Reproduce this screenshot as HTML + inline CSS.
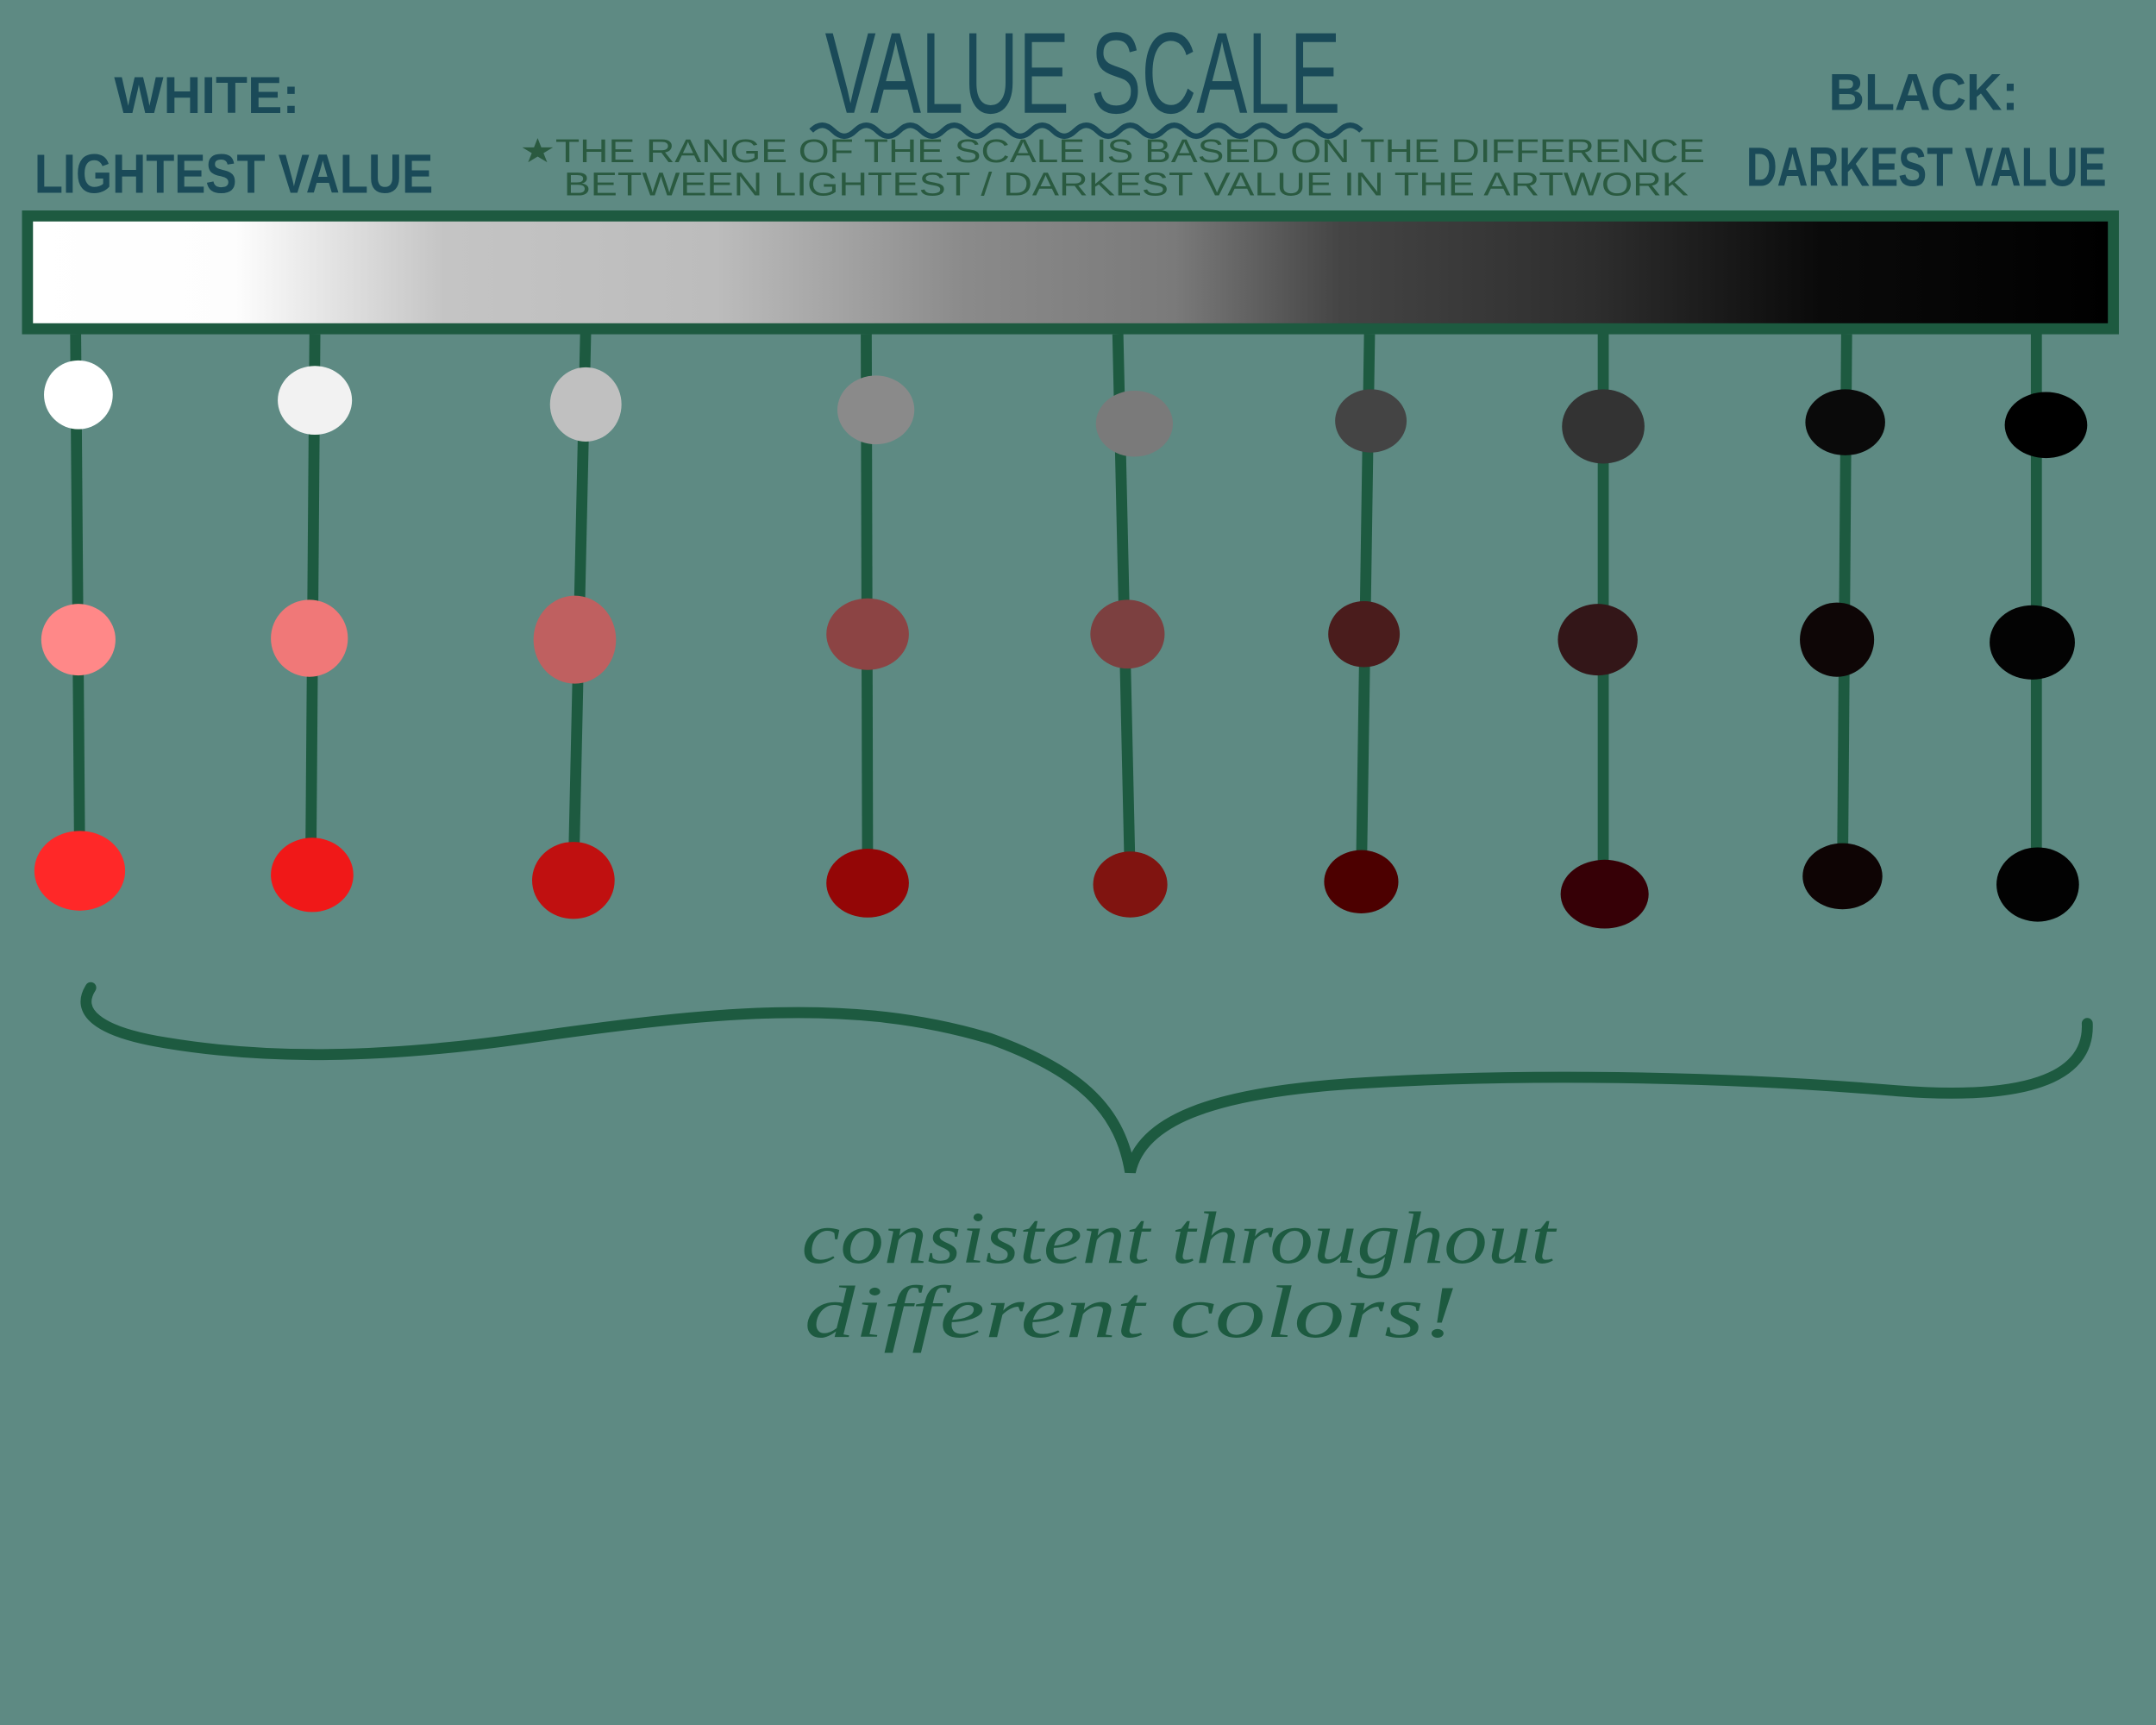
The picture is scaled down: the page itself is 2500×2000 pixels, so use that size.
<!DOCTYPE html>
<html><head><meta charset="utf-8"><style>html,body{margin:0;padding:0;background:#5e8a83}svg{display:block}</style></head>
<body>
<svg width="2500" height="2000" viewBox="0 0 1568 1254" preserveAspectRatio="none" xmlns="http://www.w3.org/2000/svg">
<defs>
<linearGradient id="g" x1="0" x2="1" y1="0" y2="0">
<stop offset="0" stop-color="#fff"/><stop offset="0.1" stop-color="#fdfdfd"/>
<stop offset="0.2" stop-color="#c4c4c4"/><stop offset="0.33" stop-color="#bcbcbc"/>
<stop offset="0.45" stop-color="#8a8a8a"/><stop offset="0.55" stop-color="#7a7a7a"/>
<stop offset="0.63" stop-color="#444"/><stop offset="0.75" stop-color="#2e2e2e"/>
<stop offset="0.86" stop-color="#0a0a0a"/><stop offset="1" stop-color="#000"/>
</linearGradient>
</defs>
<rect width="1568" height="1254" fill="#5e8a83"/>
<g font-family="Liberation Sans Narrow, Liberation Sans, sans-serif" fill="#1a4a58" font-weight="bold">
<text x="600" y="82" font-size="84" font-weight="normal" transform="scale(1,1)" textLength="375" lengthAdjust="spacingAndGlyphs">VALUE SCALE</text>
<text x="83" y="82" font-size="38" textLength="135" lengthAdjust="spacingAndGlyphs">WHITE:</text>
<text x="25" y="140" font-size="40" textLength="290" lengthAdjust="spacingAndGlyphs">LIGHTEST VALUE</text>
<text x="1330" y="80" font-size="38" textLength="138" lengthAdjust="spacingAndGlyphs">BLACK:</text>
<text x="1270" y="135" font-size="40" textLength="262" lengthAdjust="spacingAndGlyphs">DARKEST VALUE</text>
</g>
<path d="M590 95 q8 -8 16 0 t16 0 t16 0 t16 0 t16 0 t16 0 t16 0 t16 0 t16 0 t16 0 t16 0 t16 0 t16 0 t16 0 t16 0 t16 0 t16 0 t16 0 t16 0 t16 0 t16 0 t16 0 t16 0 t16 0 t16 0" fill="none" stroke="#1a4a58" stroke-width="4"/>
<g font-family="Liberation Sans Narrow, Liberation Sans, sans-serif" fill="#2a5a40" font-size="24">
<text x="378" y="118" textLength="862" lengthAdjust="spacingAndGlyphs">★THE RANGE OF THE SCALE IS BASED ON THE DIFFERENCE</text>
<text x="410" y="142" textLength="818" lengthAdjust="spacingAndGlyphs">BETWEEN LIGHTEST / DARKEST VALUE IN THE ARTWORK</text>
</g>
<rect x="20" y="157" width="1517" height="82" fill="url(#g)" stroke="#1d5a40" stroke-width="8"/>
<g stroke="#1d5a40" stroke-width="8" fill="none">
<path d="M55 243 L58 630"/><path d="M229 243 L226 636"/><path d="M426 238 L417 640"/>
<path d="M630 243 L631 642"/><path d="M813 243 L822 643"/><path d="M996 243 L990 641"/>
<path d="M1166 243 L1166 650"/><path d="M1343 243 L1340 637"/><path d="M1481 243 L1481 643"/>
</g>
<g>
<ellipse cx="57" cy="287" rx="25" ry="25" fill="#fff"/>
<ellipse cx="229" cy="291" rx="27" ry="25" fill="#f2f2f2"/>
<ellipse cx="426" cy="294" rx="26" ry="27" fill="#c0c0c0"/>
<ellipse cx="637" cy="298" rx="28" ry="25" fill="#8a8a8a"/>
<ellipse cx="825" cy="308" rx="28" ry="24" fill="#7a7a7a"/>
<ellipse cx="997" cy="306" rx="26" ry="23" fill="#444"/>
<ellipse cx="1166" cy="310" rx="30" ry="27" fill="#333"/>
<ellipse cx="1342" cy="307" rx="29" ry="24" fill="#0a0a0a"/>
<ellipse cx="1488" cy="309" rx="30" ry="24" fill="#000"/>

<ellipse cx="57" cy="465" rx="27" ry="26" fill="#ff8888"/>
<ellipse cx="225" cy="464" rx="28" ry="28" fill="#f07878"/>
<ellipse cx="418" cy="465" rx="30" ry="32" fill="#bf6060"/>
<ellipse cx="631" cy="461" rx="30" ry="26" fill="#8c4444"/>
<ellipse cx="820" cy="461" rx="27" ry="25" fill="#7c4040"/>
<ellipse cx="992" cy="461" rx="26" ry="24" fill="#4a1c1c"/>
<ellipse cx="1162" cy="465" rx="29" ry="26" fill="#331618"/>
<ellipse cx="1336" cy="465" rx="27" ry="27" fill="#0e0606"/>
<ellipse cx="1478" cy="467" rx="31" ry="27" fill="#030303"/>

<ellipse cx="58" cy="633" rx="33" ry="29" fill="#ff2828"/>
<ellipse cx="227" cy="636" rx="30" ry="27" fill="#f01818"/>
<ellipse cx="417" cy="640" rx="30" ry="28" fill="#c01010"/>
<ellipse cx="631" cy="642" rx="30" ry="25" fill="#940606"/>
<ellipse cx="822" cy="643" rx="27" ry="24" fill="#801410"/>
<ellipse cx="990" cy="641" rx="27" ry="23" fill="#4c0000"/>
<ellipse cx="1167" cy="650" rx="32" ry="25" fill="#360006"/>
<ellipse cx="1340" cy="637" rx="29" ry="24" fill="#0e0404"/>
<ellipse cx="1482" cy="643" rx="30" ry="27" fill="#020202"/>
</g>
<path d="M66 718 C55 735 70 750 120 758 C180 768 260 772 380 755 C520 735 620 725 720 755 C790 780 815 810 822 852 C830 815 880 795 980 788 C1100 780 1250 782 1380 793 C1470 800 1520 785 1518 744" fill="none" stroke="#1d5a40" stroke-width="8" stroke-linecap="round"/>
<g font-family="Liberation Serif, serif" font-style="italic" fill="#1d5a40" font-size="54">
<text x="583" y="918" textLength="548" lengthAdjust="spacingAndGlyphs">consistent throughout</text>
<text x="585" y="972" textLength="475" lengthAdjust="spacingAndGlyphs">different colors!</text>
</g>
</svg>
</body></html>
